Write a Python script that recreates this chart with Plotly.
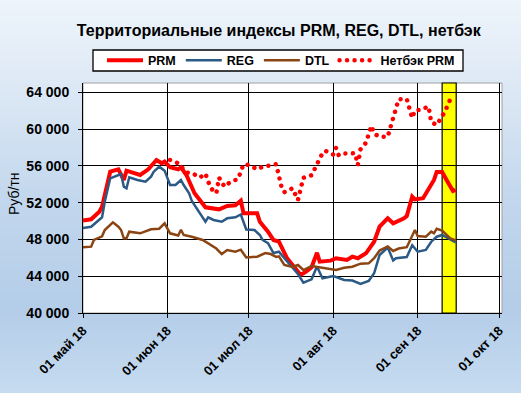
import plotly.graph_objects as go

# ---------------- data ----------------
prm_dates = ["2018-05-01","2018-05-04","2018-05-07","2018-05-08","2018-05-11","2018-05-14","2018-05-16","2018-05-17",
             "2018-05-22","2018-05-25","2018-05-28","2018-05-30","2018-05-31","2018-06-02","2018-06-05","2018-06-06",
             "2018-06-08","2018-06-11","2018-06-15","2018-06-20","2018-06-23","2018-06-26","2018-06-28","2018-06-29",
             "2018-07-04","2018-07-05","2018-07-08","2018-07-10","2018-07-12","2018-07-15","2018-07-18","2018-07-20",
             "2018-07-22","2018-07-24","2018-07-26","2018-07-27","2018-07-31","2018-08-02","2018-08-06","2018-08-08",
             "2018-08-10","2018-08-13","2018-08-16","2018-08-18","2018-08-21","2018-08-23","2018-08-27","2018-08-28",
             "2018-08-30","2018-08-31","2018-09-03","2018-09-06","2018-09-07","2018-09-08","2018-09-10","2018-09-12",
             "2018-09-14","2018-09-15"]
prm_values = [50050,50190,51010,51560,55360,55620,54460,55470,55000,55620,56630,56270,56450,55840,55620,55840,
              55000,53010,51490,51270,51630,51710,52210,50840,50840,49920,48840,47940,47750,45950,44860,44130,
              44490,44970,46550,45580,45690,45950,45760,46120,45950,46490,47750,49380,50290,49750,50290,50540,
              52640,52340,52470,54100,54460,55330,55330,54270,53260,53370]

reg_dates = ["2018-05-01","2018-05-04","2018-05-08","2018-05-09","2018-05-11","2018-05-14","2018-05-15","2018-05-16",
             "2018-05-17","2018-05-18","2018-05-21","2018-05-24","2018-05-26","2018-05-27","2018-05-29","2018-05-31",
             "2018-06-02","2018-06-04","2018-06-06","2018-06-07","2018-06-09","2018-06-10","2018-06-13","2018-06-15",
             "2018-06-16","2018-06-18","2018-06-21","2018-06-23","2018-06-26","2018-06-28","2018-06-30","2018-07-03",
             "2018-07-05","2018-07-06","2018-07-08","2018-07-10","2018-07-12","2018-07-14","2018-07-17","2018-07-19",
             "2018-07-21","2018-07-24","2018-07-26","2018-07-28","2018-08-01","2018-08-05","2018-08-08","2018-08-11",
             "2018-08-14","2018-08-16","2018-08-18","2018-08-21","2018-08-23","2018-08-24","2018-08-28","2018-08-30",
             "2018-09-01","2018-09-04","2018-09-06","2018-09-08","2018-09-10","2018-09-12","2018-09-13","2018-09-15"]
reg_values = [49240,49380,50400,52100,54640,55000,55110,53730,53550,54750,54460,54270,54820,55360,55900,55470,
              53910,53910,54460,53910,53010,52170,50840,49920,50400,50110,49920,50290,50400,50710,49080,49020,
              48480,47940,47580,46520,46660,45950,45000,44240,43290,43660,45050,43770,44020,43590,43530,43150,
              43480,44320,46300,47120,45710,45950,46090,47360,46660,46850,47750,48290,48480,48120,47940,47660]

dtl_dates = ["2018-05-01","2018-05-04","2018-05-05","2018-05-08","2018-05-09","2018-05-12","2018-05-14","2018-05-15",
             "2018-05-16","2018-05-17","2018-05-18","2018-05-22","2018-05-26","2018-05-29","2018-05-31","2018-06-02",
             "2018-06-05","2018-06-06","2018-06-07","2018-06-10","2018-06-14","2018-06-16","2018-06-19","2018-06-21",
             "2018-06-23","2018-06-26","2018-06-28","2018-06-30","2018-07-04","2018-07-07","2018-07-09","2018-07-11",
             "2018-07-12","2018-07-14","2018-07-17","2018-07-19","2018-07-21","2018-07-24","2018-07-28","2018-08-02",
             "2018-08-05","2018-08-08","2018-08-11","2018-08-14","2018-08-16","2018-08-18","2018-08-21","2018-08-23",
             "2018-08-25","2018-08-28","2018-08-31","2018-09-01","2018-09-04","2018-09-06","2018-09-07","2018-09-08",
             "2018-09-10","2018-09-12","2018-09-13","2018-09-15"]
dtl_values = [47140,47210,47940,48340,49020,49860,49380,49020,48120,48120,48840,48660,49100,49160,49750,48660,
              48420,49050,48480,48290,47940,47580,47010,46410,46850,46660,46880,46030,46120,46520,46410,46090,
              46160,45220,45000,45220,44670,45110,44920,44670,44920,45030,45360,45400,45950,46790,47230,46740,
              47010,47150,49020,48370,48290,48840,48660,49160,48970,48370,48120,47880]

net_dates = ["2018-06-02","2018-06-05","2018-06-08","2018-06-10","2018-06-13","2018-06-15","2018-06-16","2018-06-17",
             "2018-06-19","2018-06-20","2018-06-22","2018-06-24","2018-06-27","2018-06-28","2018-06-29","2018-07-01",
             "2018-07-04","2018-07-06","2018-07-08","2018-07-11","2018-07-13","2018-07-14","2018-07-17","2018-07-19",
             "2018-07-21","2018-07-24","2018-07-28","2018-07-29","2018-08-01","2018-08-02","2018-08-03","2018-08-04",
             "2018-08-09","2018-08-10","2018-08-11","2018-08-13","2018-08-15","2018-08-16","2018-08-18","2018-08-21",
             "2018-08-25","2018-08-28","2018-08-30","2018-08-31","2018-09-02","2018-09-05","2018-09-06","2018-09-08",
             "2018-09-11","2018-09-13"]
net_values = [56630,56270,55270,55220,54730,55160,54290,53550,53010,54710,53730,54210,54570,55360,56160,56090,
              55620,55900,56000,56170,53660,53130,53550,52280,54700,54970,57360,57640,57210,57940,57140,57320,
              57360,56090,57790,58510,60350,59490,59160,59160,63230,63260,61200,62030,62070,62450,60760,60440,
              61880,63230]

series_names = ["PRM", "REG", "DTL", "Нетбэк PRM"]
month_ticks = ["2018-05-01", "2018-06-01", "2018-07-01", "2018-08-01", "2018-09-01", "2018-10-01"]
month_labels = ["01 май 18", "01 июн 18", "01 июл 18", "01 авг 18", "01 сен 18", "01 окт 18"]
y_ticks = [40000, 44000, 48000, 52000, 56000, 60000, 64000]
highlight_start = "2018-09-10 00:00"
highlight_end = "2018-09-15 04:00"

TITLE = "Территориальные индексы PRM, REG, DTL, нетбэк"
Y_TITLE = "Руб/тн"

# ---------------- figure ----------------
W, H = 521, 393
ML, MR, MT, MB = 83, 19, 83, 80
PW, PH = W - ML - MR, H - MT - MB
FONT = "Liberation Sans, Arial, sans-serif"

def px_x(p):
    return (p - ML) / PW

def px_y(p):
    return (H - MB - p) / PH

fig = go.Figure()
fig.add_trace(go.Scatter(x=prm_dates, y=prm_values, name=series_names[0], mode="lines",
                         line=dict(color="#FF0000", width=4)))
fig.add_trace(go.Scatter(x=reg_dates, y=reg_values, name=series_names[1], mode="lines",
                         line=dict(color="#2B5A86", width=2.5)))
fig.add_trace(go.Scatter(x=dtl_dates, y=dtl_values, name=series_names[2], mode="lines",
                         line=dict(color="#8B4513", width=2.5)))
fig.add_trace(go.Scatter(x=net_dates, y=net_values, name=series_names[3], mode="lines",
                         line=dict(color="#FF0000", width=4.5, dash="4px,3.5px")))

# gradient background (styling only)
stops = [(0, (238, 244, 251)), (90, (220, 232, 245)), (200, (194, 215, 237)),
         (310, (180, 205, 232)), (393, (198, 219, 240))]

def grad(yp):
    for (y0, c0), (y1, c1) in zip(stops[:-1], stops[1:]):
        if y0 <= yp <= y1:
            t = (yp - y0) / (y1 - y0)
            return "rgb(%d,%d,%d)" % tuple(round(a + (b - a) * t) for a, b in zip(c0, c1))
    return "rgb(%d,%d,%d)" % stops[-1][1]

shapes = []
N = 80
for i in range(N):
    ya = i * H / N
    yb = (i + 1) * H / N + 1
    shapes.append(dict(type="rect", xref="paper", yref="paper", layer="below",
                       x0=px_x(0) - 0.02, x1=px_x(W) + 0.02,
                       y0=px_y(yb), y1=px_y(ya),
                       fillcolor=grad((ya + yb) / 2), line=dict(width=0)))
# legend frame
shapes.append(dict(type="rect", xref="paper", yref="paper", layer="below",
                   x0=px_x(93), x1=px_x(463), y0=px_y(71), y1=px_y(50),
                   fillcolor="white", line=dict(color="black", width=1.3)))
shapes.append(dict(type="rect", xref="x domain", yref="y domain", layer="below",
                   x0=0, x1=1, y0=0, y1=1, fillcolor="white",
                   line=dict(color="#A0A0A0", width=1)))
shapes.append(dict(type="rect", xref="x", yref="y domain", layer="below",
                   x0=highlight_start, x1=highlight_end, y0=0, y1=1,
                   fillcolor="#FFFF00", line=dict(color="black", width=1.2)))

fig.update_layout(
    width=W, height=H,
    margin=dict(l=ML, r=MR, t=MT, b=MB),
    paper_bgcolor="rgb(200,218,238)",
    plot_bgcolor="white",
    separators=", ",
    font=dict(family=FONT, color="black"),
    shapes=shapes,
    showlegend=True,
    title=dict(text=TITLE, x=0.535, xanchor="center", y=1 - 30 / H, yanchor="middle",
               font=dict(family=FONT, size=16, weight="bold", color="black")),
    legend=dict(orientation="h", x=px_x(102), xanchor="left",
                y=px_y(60.5), yanchor="middle",
                bgcolor="rgba(0,0,0,0)", borderwidth=0,
                font=dict(family=FONT, size=12.5, weight="bold", color="black"),
                itemwidth=36),
    annotations=[dict(text=Y_TITLE, xref="paper", yref="paper",
                      x=px_x(14), y=px_y(194), textangle=-90,
                      showarrow=False, xanchor="center", yanchor="middle",
                      font=dict(family=FONT, size=14, color="black"))],
)

fig.update_xaxes(type="date", range=["2018-05-01", "2018-10-02"],
                 tickvals=month_ticks, ticktext=month_labels, tickangle=-45,
                 tickfont=dict(family=FONT, size=13, weight="bold", color="black"),
                 showgrid=True, gridcolor="black", gridwidth=1,
                 showline=True, linecolor="black", linewidth=1,
                 ticks="outside", ticklen=4, tickcolor="black",
                 zeroline=False, automargin=False, fixedrange=True)
fig.update_yaxes(range=[40000, 65000], tickvals=y_ticks, tickformat=",d",
                 tickfont=dict(family=FONT, size=14, weight="bold", color="black"),
                 showgrid=True, gridcolor="black", gridwidth=1,
                 showline=True, linecolor="black", linewidth=1,
                 ticks="outside", ticklen=4, tickcolor="black",
                 ticklabelstandoff=6,
                 zeroline=False, automargin=False, fixedrange=True)

post_js = """
document.body.style.margin = '0';
document.body.style.padding = '0';
var gd = document.getElementById('{plot_id}');
function roundDots(){
  var paths = gd.querySelectorAll('path');
  for (var i = 0; i < paths.length; i++) {
    var p = paths[i];
    var d = p.style.strokeDasharray;
    if (d && d !== 'none' && d.indexOf('3.5') >= 0) {
      p.style.strokeLinecap = 'round';
      p.style.strokeDasharray = '0.01px,7.5px';
    }
  }
}
roundDots();
if (gd.on) { gd.on('plotly_afterplot', roundDots); }
"""

fig.write_html("out.html", post_script=post_js, config={"displayModeBar": False})
